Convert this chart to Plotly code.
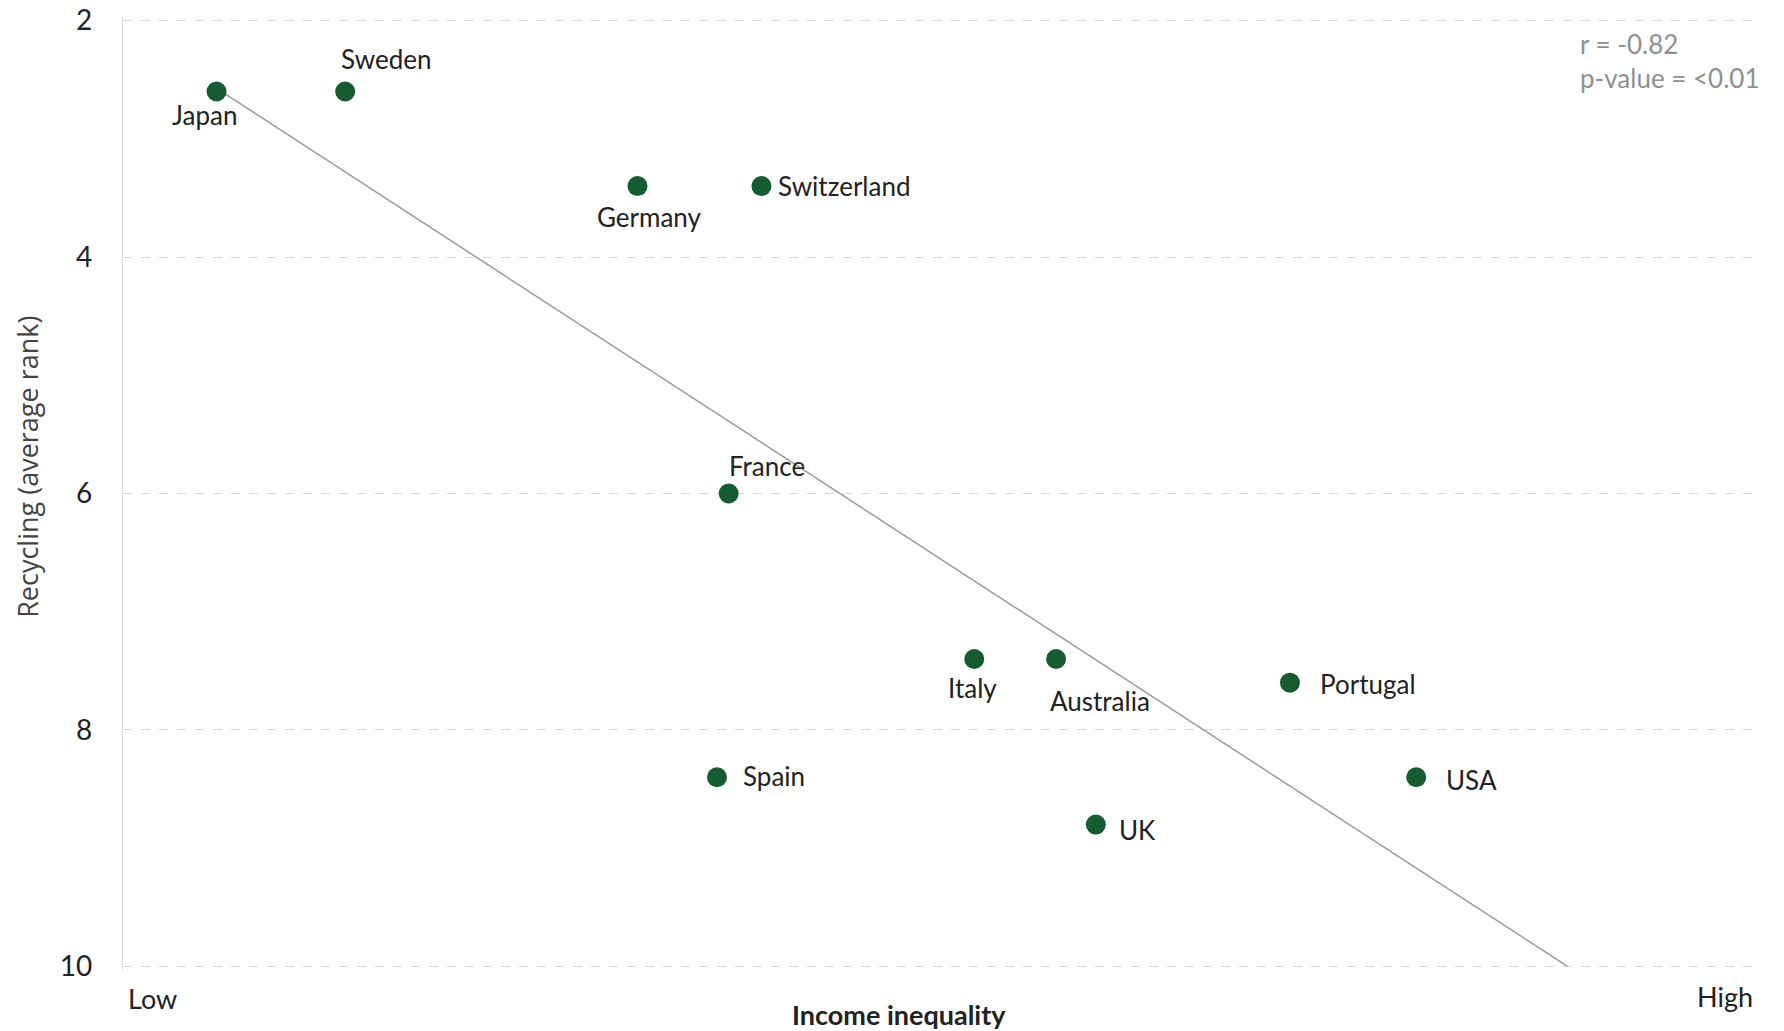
import numpy as np
import plotly.graph_objects as go

countries = ["Japan", "Sweden", "Germany", "Switzerland", "France", "Spain",
             "Italy", "Australia", "UK", "Portugal", "USA"]
inequality = [3.4, 3.95, 5.2, 5.73, 5.59, 5.54, 6.64, 6.99, 7.16, 7.99, 8.53]
recycling_rank = [2.6, 2.6, 3.4, 3.4, 6.0, 8.4, 7.4, 7.4, 8.8, 7.6, 8.4]
y_ticks = [2, 4, 6, 8, 10]
stats_text = ["r = -0.82", "p-value = <0.01"]

FONT = "Lato, 'Open Sans', sans-serif"
GREEN = "#175c30"

# label placement (pixels relative to point): xanchor, xshift, yshift
label_pos = {
    "Japan": ("center", -12, -24),
    "Sweden": ("center", 41, 32),
    "Germany": ("center", 12, -31),
    "Switzerland": ("left", 15, 0),
    "France": ("left", -2, 28),
    "Spain": ("left", 24, 1),
    "Italy": ("center", -2, -29),
    "Australia": ("left", -8, -42),
    "UK": ("left", 21, -5),
    "Portugal": ("left", 28, -1),
    "USA": ("left", 28, -3),
}

# regression line from lowest inequality to where it reaches rank 10
slope, intercept = np.polyfit(inequality, recycling_rank, 1)
x0 = min(inequality)
x1 = (10 - intercept) / slope
fit_x = [x0, x1]
fit_y = [slope * x0 + intercept, slope * x1 + intercept]

fig = go.Figure()
fig.add_trace(go.Scatter(x=fit_x, y=fit_y, mode="lines",
                         line=dict(color="#9a9a9a", width=1.5),
                         hoverinfo="skip", showlegend=False))
fig.add_trace(go.Scatter(x=inequality, y=recycling_rank, mode="markers",
                         marker=dict(color=GREEN, size=20),
                         text=countries, showlegend=False))

for c, x, y in zip(countries, inequality, recycling_rank):
    anchor, xs, ys = label_pos[c]
    fig.add_annotation(x=x, y=y, text=c, showarrow=False, xanchor=anchor,
                       yanchor="middle", xshift=xs, yshift=ys,
                       font=dict(family=FONT, size=26, color="#222222"))

fig.add_annotation(xref="paper", yref="paper", x=0.889, y=0.991,
                   text="<br>".join(stats_text), showarrow=False,
                   xanchor="left", yanchor="top", align="left",
                   font=dict(family=FONT, size=26, color="#8f8f8f"))

fig.add_annotation(xref="paper", yref="paper", x=0.002, y=-0.011,
                   text="Low", showarrow=False, xanchor="left", yanchor="top",
                   font=dict(family=FONT, size=27, color="#222222"))
fig.add_annotation(xref="paper", yref="paper", x=0.997, y=-0.008,
                   text="High", showarrow=False, xanchor="right", yanchor="top",
                   font=dict(family=FONT, size=27, color="#222222"))
fig.add_annotation(xref="paper", yref="paper", x=0.474, y=-0.027,
                   text="<b>Income inequality</b>", showarrow=False,
                   xanchor="center", yanchor="top",
                   font=dict(family=FONT, size=27, color="#222222"))
fig.add_annotation(xref="paper", yref="paper", x=-0.058, y=0.528,
                   text="Recycling (average rank)", showarrow=False,
                   textangle=-90, xanchor="center", yanchor="middle",
                   font=dict(family="'Open Sans', sans-serif", size=27,
                             color="#444444"))

fig.update_layout(
    width=1776, height=1023,
    margin=dict(l=115, r=24, t=9, b=61, autoexpand=False),
    paper_bgcolor="white", plot_bgcolor="white",
    font=dict(family=FONT, color="#222222"),
    xaxis=dict(range=[3, 10], showticklabels=False, showgrid=False,
               zeroline=False, showline=False, ticks="", automargin=False),
    yaxis=dict(range=[10.03, 1.97], tickvals=y_ticks, showgrid=True,
               gridcolor="#d8d8d8", griddash="dash", gridwidth=1.2,
               zeroline=False, showline=True, linecolor="#dcdcdc",
               linewidth=1.2, ticks="", ticklabelstandoff=24, automargin=False,
               ticklabeloverflow="allow",
               tickfont=dict(family=FONT, size=28, color="#222222")),
)

fig.write_html("out.html")
